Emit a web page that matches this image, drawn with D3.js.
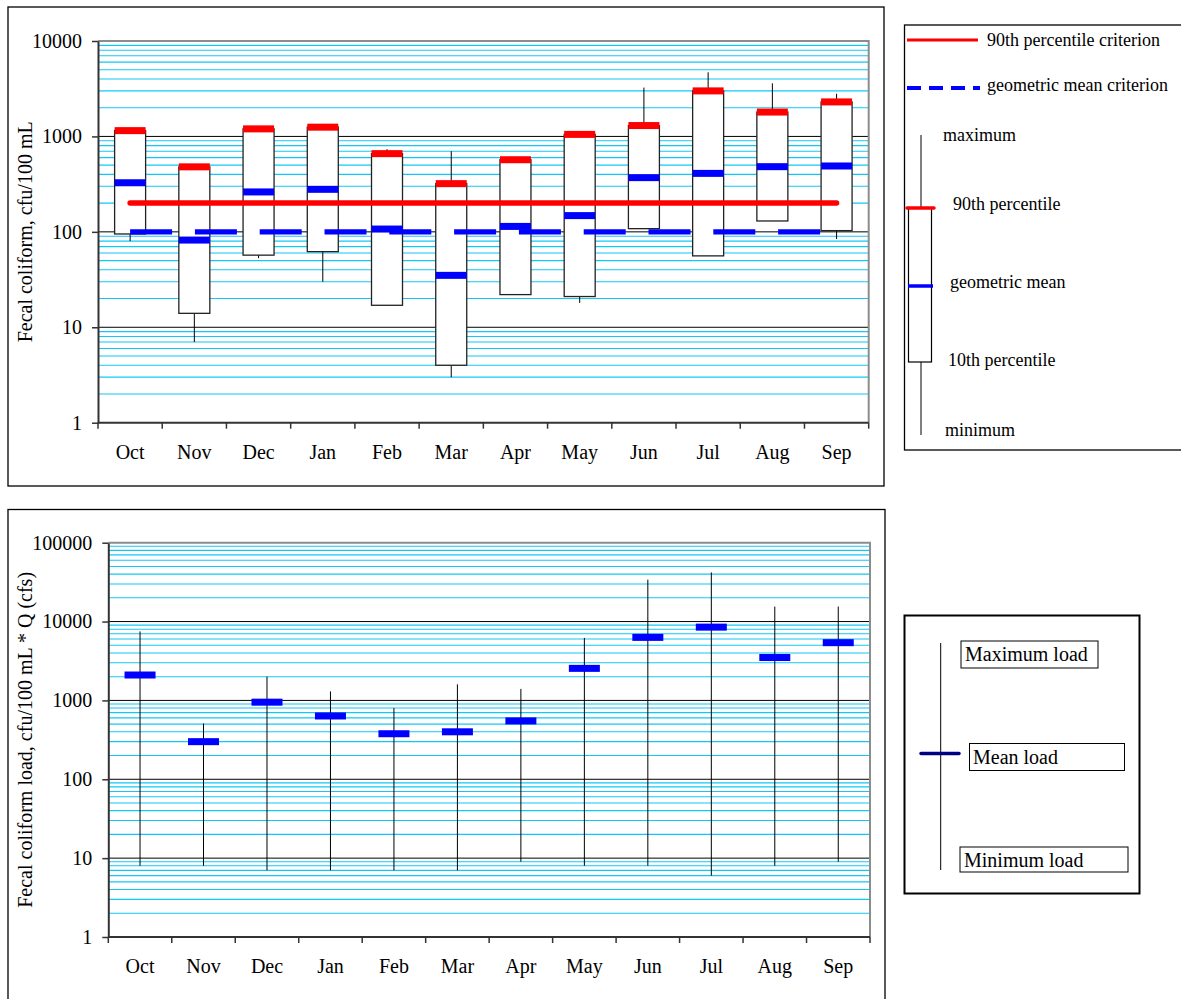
<!DOCTYPE html>
<html>
<head>
<meta charset="utf-8">
<script src="https://cdn.jsdelivr.net/npm/d3@7"></script>
<style>
  html, body { margin: 0; padding: 0; background: #fff; }
  svg text { font-family: "Liberation Serif", "Times New Roman", serif; fill: #000; }
</style>
</head>
<body>
<svg id="chart" width="1181" height="999"></svg>
<script>
// ---------- DATA ----------
const months = ["Oct","Nov","Dec","Jan","Feb","Mar","Apr","May","Jun","Jul","Aug","Sep"];

// Top chart: fecal coliform concentration, cfu/100 mL
const maxConc   = [1150, 480, 1200, 1250, 735, 700, 570, 1050, 3250, 4700, 3600, 2800];
const pct90     = [1150, 480, 1200, 1250, 660, 320, 570, 1050, 1300, 3000, 1800, 2300];
const geoMean   = [327, 82, 262, 279, 107, 35, 114, 148, 370, 410, 482, 490];
const pct10     = [95, 14, 57, 62, 17, 4, 22, 21, 108, 56, 130, 103];
const minConc   = [80, 7, 53, 30, 17, 3, 22, 18, 108, 56, 130, 84];
const crit90    = [200, 200, 200, 200, 200, 200, 200, 200, 200, 200, 200, 200];
const critGeo   = [100, 100, 100, 100, 100, 100, 100, 100, 100, 100, 100, 100];
const topTicks  = [1, 10, 100, 1000, 10000];

// Bottom chart: fecal coliform load, cfu/100 mL * Q (cfs)
const loadMax   = [7500, 510, 2000, 1300, 800, 1600, 1400, 6200, 34000, 42000, 15500, 15500];
const loadMean  = [2100, 300, 950, 635, 378, 400, 550, 2550, 6300, 8500, 3500, 5400];
const loadMin   = [8, 8, 7, 7, 7, 7, 9, 8, 8, 6, 8, 9];
const botTicks  = [1, 10, 100, 1000, 10000, 100000];

// ---------- DRAW ----------
const svg = d3.select("#chart");
const FONT = '"Liberation Serif", "Times New Roman", serif';

function panel(cfg) {
  const g = svg.append("g");
  // frame
  g.append("rect").attr("x", cfg.frame[0]).attr("y", cfg.frame[1])
    .attr("width", cfg.frame[2]).attr("height", cfg.frame[3])
    .attr("fill", "#fff").attr("stroke", "#000").attr("stroke-width", 1.3);

  const x = d3.scaleBand().domain(months).range([cfg.x0, cfg.x1]).paddingInner(0).paddingOuter(0);
  const y = d3.scaleLog().domain([cfg.ticks[0], cfg.ticks[cfg.ticks.length - 1]]).range([cfg.y1, cfg.y0]);

  // minor gridlines
  const minor = [];
  for (let i = 0; i < cfg.ticks.length - 1; i++) {
    for (let k = 2; k <= 9; k++) minor.push(cfg.ticks[i] * k);
  }
  g.append("g").selectAll("line").data(minor).join("line")
    .attr("x1", cfg.x0).attr("x2", cfg.x1)
    .attr("y1", d => y(d)).attr("y2", d => y(d))
    .attr("stroke", "#10c8f8").attr("stroke-width", 1.1);
  // major gridlines
  g.append("g").selectAll("line").data(cfg.ticks.slice(1, -1)).join("line")
    .attr("x1", cfg.x0).attr("x2", cfg.x1)
    .attr("y1", d => y(d)).attr("y2", d => y(d))
    .attr("stroke", "#000").attr("stroke-width", 1);
  // plot area border (top & right)
  g.append("path")
    .attr("d", `M${cfg.x0},${cfg.y0}H${cfg.x1}V${cfg.y1}`)
    .attr("fill", "none").attr("stroke", "#8c8c8c").attr("stroke-width", 2);

  // y axis
  const yAxis = d3.axisLeft(y).tickValues(cfg.ticks).tickFormat(d3.format("d")).tickSizeOuter(0).tickSizeInner(6).tickPadding(10);
  const ya = g.append("g").attr("transform", `translate(${cfg.x0},0)`).call(yAxis);
  ya.attr("font-family", FONT);
  ya.select(".domain").attr("stroke", "#333").attr("stroke-width", 2);
  ya.selectAll(".tick line").attr("stroke", "#333").attr("stroke-width", 1.5);
  ya.selectAll("text").attr("font-family", FONT).attr("font-size", 20).attr("fill", "#000");

  // x axis with ticks at band boundaries
  const xa = g.append("g").attr("transform", `translate(0,${cfg.y1})`);
  xa.append("line").attr("x1", cfg.x0).attr("x2", cfg.x1).attr("stroke", "#333").attr("stroke-width", 2);
  const bounds = months.map(m => x(m)).concat([cfg.x1]);
  xa.selectAll("line.t").data(bounds).join("line").attr("class", "t")
    .attr("x1", d => d).attr("x2", d => d).attr("y1", 0).attr("y2", 6)
    .attr("stroke", "#333").attr("stroke-width", 1.5);
  xa.selectAll("text").data(months).join("text")
    .attr("x", d => x(d) + x.bandwidth() / 2).attr("y", cfg.labelDy)
    .attr("text-anchor", "middle").attr("font-size", 20).text(d => d);

  // y title
  g.append("text")
    .attr("transform", `translate(${cfg.titleX},${(cfg.y0 + cfg.y1) / 2}) rotate(-90)`)
    .attr("text-anchor", "middle").attr("dy", "0.35em").attr("font-size", 20).text(cfg.title);

  return { g, x, y };
}

// ---------- TOP CHART ----------
const topPanel = panel({ frame: [8, 7, 876, 479], x0: 98, x1: 868.7, y0: 41, y1: 422.7,
  ticks: topTicks, labelDy: 36.5, titleX: 25, title: "Fecal coliform, cfu/100 mL" });
{
  const { g, x, y } = topPanel;
  const cx = m => x(m) + x.bandwidth() / 2;
  const bw = 31;
  // whiskers (min to max)
  g.append("g").selectAll("line").data(months).join("line")
    .attr("x1", d => cx(d)).attr("x2", d => cx(d))
    .attr("y1", (d, i) => y(maxConc[i])).attr("y2", (d, i) => y(minConc[i]))
    .attr("stroke", "#000").attr("stroke-width", 1);
  // boxes (10th to 90th)
  g.append("g").selectAll("rect").data(months).join("rect")
    .attr("x", d => cx(d) - bw / 2).attr("width", bw)
    .attr("y", (d, i) => y(pct90[i])).attr("height", (d, i) => y(pct10[i]) - y(pct90[i]))
    .attr("fill", "#fff").attr("stroke", "#222").attr("stroke-width", 1.3);
  // 90th percentile criterion line
  const line = d3.line().x(d => cx(d[0])).y(d => y(d[1]));
  g.append("path").datum(months.map((m, i) => [m, crit90[i]]))
    .attr("d", line).attr("fill", "none").attr("stroke", "#ff0000")
    .attr("stroke-width", 5.5).attr("stroke-linecap", "round");
  // geometric mean criterion dashed line
  g.append("path").datum(months.map((m, i) => [m, critGeo[i]]))
    .attr("d", line).attr("fill", "none").attr("stroke", "#0000ff")
    .attr("stroke-width", 5.3).attr("stroke-dasharray", "42 22.8");
  // 90th percentile markers
  g.append("g").selectAll("rect").data(months).join("rect")
    .attr("x", d => cx(d) - bw / 2).attr("width", bw)
    .attr("y", (d, i) => y(pct90[i]) - 3.5).attr("height", 7)
    .attr("fill", "#ff0000");
  // geometric mean markers
  g.append("g").selectAll("rect").data(months).join("rect")
    .attr("x", d => cx(d) - bw / 2).attr("width", bw)
    .attr("y", (d, i) => y(geoMean[i]) - 3.5).attr("height", 7)
    .attr("fill", "#0000ff");
}

// top legend
{
  const g = svg.append("g");
  g.append("rect").attr("x", 904.5).attr("y", 25).attr("width", 290).attr("height", 425)
    .attr("fill", "#fff").attr("stroke", "#000").attr("stroke-width", 1.3);
  g.append("line").attr("x1", 907).attr("x2", 978).attr("y1", 40).attr("y2", 40)
    .attr("stroke", "#ff0000").attr("stroke-width", 3);
  g.append("text").attr("x", 987).attr("y", 46).attr("font-size", 18).text("90th percentile criterion");
  g.append("line").attr("x1", 907).attr("x2", 980).attr("y1", 88).attr("y2", 88)
    .attr("stroke", "#0000ff").attr("stroke-width", 4).attr("stroke-dasharray", "14 8");
  g.append("text").attr("x", 987).attr("y", 91).attr("font-size", 18).text("geometric mean criterion");
  g.append("line").attr("x1", 921).attr("x2", 921).attr("y1", 135).attr("y2", 435)
    .attr("stroke", "#000").attr("stroke-width", 1);
  g.append("rect").attr("x", 908.5).attr("y", 208).attr("width", 23).attr("height", 154)
    .attr("fill", "#fff").attr("stroke", "#000").attr("stroke-width", 1.2);
  g.append("line").attr("x1", 907).attr("x2", 934).attr("y1", 208).attr("y2", 208)
    .attr("stroke", "#ff0000").attr("stroke-width", 3.5).attr("stroke-linecap", "round");
  g.append("line").attr("x1", 908).attr("x2", 933).attr("y1", 286).attr("y2", 286)
    .attr("stroke", "#0000ff").attr("stroke-width", 3.5);
  g.append("text").attr("x", 943).attr("y", 141).attr("font-size", 18).text("maximum");
  g.append("text").attr("x", 953).attr("y", 210).attr("font-size", 18).text("90th percentile");
  g.append("text").attr("x", 950).attr("y", 288).attr("font-size", 18).text("geometric mean");
  g.append("text").attr("x", 948).attr("y", 366).attr("font-size", 18).text("10th percentile");
  g.append("text").attr("x", 945).attr("y", 436).attr("font-size", 18).text("minimum");
}

// ---------- BOTTOM CHART ----------
const botPanel = panel({ frame: [8, 509.5, 877, 500], x0: 108.3, x1: 870, y0: 542.7, y1: 937,
  ticks: botTicks, labelDy: 36, titleX: 25, title: "Fecal coliform load, cfu/100 mL * Q (cfs)" });
{
  const { g, x, y } = botPanel;
  const cx = m => x(m) + x.bandwidth() / 2;
  const bw = 31;
  g.append("g").selectAll("line").data(months).join("line")
    .attr("x1", d => cx(d)).attr("x2", d => cx(d))
    .attr("y1", (d, i) => y(loadMax[i])).attr("y2", (d, i) => y(loadMin[i]))
    .attr("stroke", "#000").attr("stroke-width", 1);
  g.append("g").selectAll("rect").data(months).join("rect")
    .attr("x", d => cx(d) - bw / 2).attr("width", bw)
    .attr("y", (d, i) => y(loadMean[i]) - 3.5).attr("height", 7)
    .attr("fill", "#0000ff");
}

// bottom legend
{
  const g = svg.append("g");
  g.append("rect").attr("x", 904.5).attr("y", 615.5).attr("width", 235).attr("height", 278)
    .attr("fill", "#fff").attr("stroke", "#000").attr("stroke-width", 2);
  g.append("line").attr("x1", 940.7).attr("x2", 940.7).attr("y1", 643).attr("y2", 870)
    .attr("stroke", "#000").attr("stroke-width", 1);
  g.append("line").attr("x1", 921).attr("x2", 959).attr("y1", 753.5).attr("y2", 753.5)
    .attr("stroke", "#000080").attr("stroke-width", 3.5).attr("stroke-linecap", "round");
  const boxes = [
    { t: "Maximum load", x: 961, y: 641, w: 137, h: 27, tx: 965, ty: 661 },
    { t: "Mean load", x: 969.5, y: 743.5, w: 155, h: 27, tx: 973, ty: 764 },
    { t: "Minimum load", x: 960, y: 847, w: 168, h: 25, tx: 964, ty: 867 }
  ];
  boxes.forEach(b => {
    g.append("rect").attr("x", b.x).attr("y", b.y).attr("width", b.w).attr("height", b.h)
      .attr("fill", "#fff").attr("stroke", "#000").attr("stroke-width", 1);
    g.append("text").attr("x", b.tx).attr("y", b.ty).attr("font-size", 20).text(b.t);
  });
}
</script>
</body>
</html>
